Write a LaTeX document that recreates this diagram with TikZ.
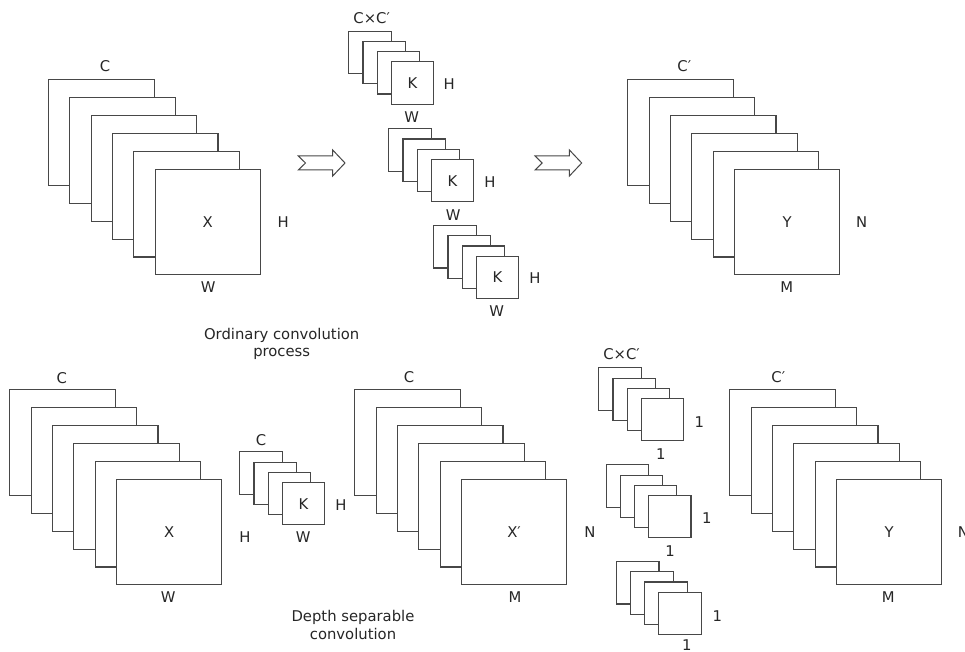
\documentclass[tikz,border=0pt]{standalone}
\usepackage{fontspec}
\setmainfont{DejaVu Sans}
\begin{document}
\begin{tikzpicture}[x=1pt,y=-1pt,
  every node/.style={font=\fontsize{14.8}{17.5}\selectfont, text=black!85},
  bigsq/.style={draw=black!72, line width=1.1pt, fill=white, minimum size=105.5pt, inner sep=0pt, anchor=north west},
  smallsq/.style={draw=black!72, line width=1.1pt, fill=white, minimum size=42.4pt, inner sep=0pt, anchor=north west},
  lbl/.style={inner sep=0pt, anchor=center},
  blockarrow/.style={draw=black!72, line width=1pt, fill=white, line join=miter}
]
\useasboundingbox (0,0) rectangle (965,652);

% ---------- top: ordinary convolution ----------
\foreach \i in {0,...,5}
  \node[bigsq] (tx\i) at ({48+21.3*\i},{79.3+17.9*\i}) {};
\node[lbl] (tC) at (105,65.7) {C};
\node[lbl] (tX) at (tx5.center) {X};
\node[lbl] (tH) at (283.3,222) {H};
\node[lbl] (tW) at (208.3,287.3) {W};

% kernels
\foreach \i in {0,...,3}
  \node[smallsq] (ka\i) at ({348.3+14.1*\i},{30.7+10.2*\i}) {};
\foreach \i in {0,...,3}
  \node[smallsq] (kb\i) at ({388.3+14.1*\i},{128.3+10.2*\i}) {};
\foreach \i in {0,...,3}
  \node[smallsq] (kc\i) at ({433.3+14.1*\i},{225+10.2*\i}) {};
\node[lbl] (kaCC) at (371.7,17.7) {C×C′};
\node[lbl] (kaK) at (ka3.center) {K};
\node[lbl] (kaH) at (449.3,84) {H};
\node[lbl] (kaW) at (411.7,117.3) {W};
\node[lbl] (kbK) at (kb3.center) {K};
\node[lbl] (kbH) at (490,181.7) {H};
\node[lbl] (kbW) at (453.3,215) {W};
\node[lbl] (kcK) at (kc3.center) {K};
\node[lbl] (kcH) at (535,278.3) {H};
\node[lbl] (kcW) at (496.7,310.7) {W};

% arrows
\coordinate (arrA) at (298.3,163);
\coordinate (arrB) at (535,163);
\foreach \c in {arrA,arrB}
  \draw[blockarrow,shift={(\c)}] (0,-7) -- (34.4,-7) -- (34.4,-13) -- (46.7,0) -- (34.4,13) -- (34.4,7) -- (0,7) -- (7.2,0) -- cycle;

\foreach \i in {0,...,5}
  \node[bigsq] (ty\i) at ({627.3+21.3*\i},{79.3+17.9*\i}) {};
\node[lbl] (tCp) at (684.3,65.7) {C′};
\node[lbl] (tY) at (ty5.center) {Y};
\node[lbl] (tN) at (861.7,222) {N};
\node[lbl] (tM) at (786.7,287.3) {M};

\node[align=center, inner sep=0pt] (cap1) at (281.7,344) {Ordinary convolution\\process};

% ---------- bottom: depth separable ----------
\foreach \i in {0,...,5}
  \node[bigsq] (bx\i) at ({9.3+21.3*\i},{389.3+17.9*\i}) {};
\node[lbl] (bC) at (61.7,378.3) {C};
\node[lbl] (bX) at (bx5.center) {X};
\node[lbl] (bH) at (245,536.7) {H};
\node[lbl] (bW) at (168.3,597.3) {W};

\foreach \i in {0,...,3}
  \node[smallsq] (bk\i) at ({239.3+14.1*\i},{451.3+10.2*\i}) {};
\node[lbl] (bkC) at (261,440) {C};
\node[lbl] (bkK) at (bk3.center) {K};
\node[lbl] (bkH) at (341,505) {H};
\node[lbl] (bkW) at (303.3,536.7) {W};

\foreach \i in {0,...,5}
  \node[bigsq] (bm\i) at ({354.3+21.3*\i},{389.3+17.9*\i}) {};
\node[lbl] (bmC) at (409,377.3) {C};
\node[lbl] (bmX) at (bm5.center) {X′};
\node[lbl] (bmN) at (590,532.3) {N};
\node[lbl] (bmM) at (515,597.3) {M};

\foreach \i in {0,...,3}
  \node[smallsq] (pa\i) at ({598.3+14.1*\i},{367.3+10.2*\i}) {};
\foreach \i in {0,...,3}
  \node[smallsq] (pb\i) at ({605.7+14.1*\i},{464.3+10.2*\i}) {};
\foreach \i in {0,...,3}
  \node[smallsq] (pc\i) at ({616+14.1*\i},{561+10.2*\i}) {};
\node[lbl] (paCC) at (621.5,354.3) {C×C′};
\node[lbl] (paR) at (699.3,421.7) {1};
\node[lbl] (paB) at (660.7,454) {1};
\node[lbl] (pbR) at (706.7,518.3) {1};
\node[lbl] (pbB) at (670,550.7) {1};
\node[lbl] (pcR) at (717.3,616) {1};
\node[lbl] (pcB) at (686.7,645.5) {1};

\foreach \i in {0,...,5}
  \node[bigsq] (by\i) at ({729.3+21.3*\i},{389.3+17.9*\i}) {};
\node[lbl] (byC) at (778.3,377.3) {C′};
\node[lbl] (byY) at (by5.center) {Y};
\node[lbl] (byN) at (963.4,532.3) {N};
\node[lbl] (byM) at (888.3,597.3) {M};

\node[align=center, inner sep=0pt] (cap2) at (353,625) {Depth separable\\convolution};
\end{tikzpicture}
\end{document}
